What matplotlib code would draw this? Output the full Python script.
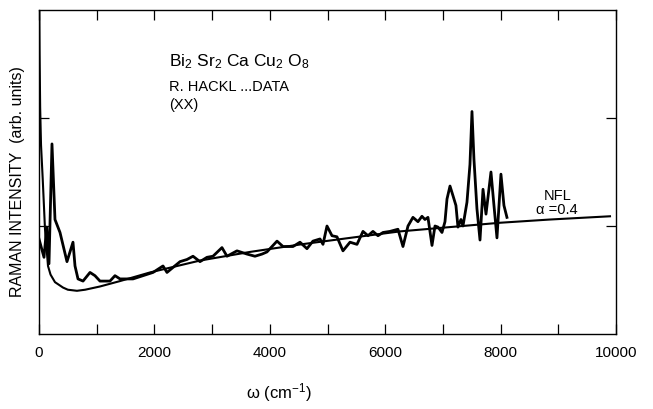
import matplotlib
matplotlib.use("Agg")
import matplotlib.pyplot as plt
from matplotlib.ticker import MultipleLocator

plt.rcParams['font.family'] = ['Liberation Sans', 'DejaVu Sans']
plt.rcParams['mathtext.default'] = 'regular'

# measured spectrum (omega in cm^-1, intensity arb. units)
data_w = [0, 87, 133, 173, 225, 277, 364, 485, 589, 624, 676, 763, 884, 970,
          1057, 1230, 1317, 1404, 1629, 1802, 1976, 2149, 2218, 2444, 2565,
          2669, 2790, 2911, 3015, 3171, 3258, 3431, 3605, 3743, 3865, 3951,
          4125, 4229, 4402, 4523, 4644, 4748, 4870, 4922, 4991, 5078, 5164,
          5268, 5390, 5511, 5615, 5702, 5788, 5875, 5962, 6083, 6221, 6308,
          6395, 6481, 6568, 6637, 6689, 6741, 6811, 6863, 6915, 6984, 7036,
          7071, 7123, 7175, 7226, 7261, 7313, 7348, 7417, 7469, 7504, 7538,
          7590, 7643, 7695, 7747, 7833, 7885, 7937, 8006, 8058, 8110]
data_i = [0.88, 0.71, 0.99, 0.65, 1.76, 1.06, 0.94, 0.67, 0.85, 0.63, 0.51,
          0.49, 0.57, 0.54, 0.49, 0.49, 0.54, 0.51, 0.51, 0.54, 0.57, 0.63,
          0.57, 0.67, 0.69, 0.72, 0.67, 0.71, 0.72, 0.80, 0.72, 0.77, 0.74,
          0.72, 0.74, 0.76, 0.86, 0.81, 0.81, 0.85, 0.79, 0.86, 0.88, 0.83,
          1.00, 0.91, 0.90, 0.77, 0.85, 0.83, 0.95, 0.91, 0.95, 0.91, 0.94,
          0.95, 0.97, 0.81, 1.00, 1.08, 1.04, 1.09, 1.06, 1.08, 0.82, 1.00,
          0.99, 0.94, 1.04, 1.25, 1.37, 1.28, 1.19, 0.99, 1.06, 1.00, 1.22,
          1.57, 2.06, 1.62, 1.16, 0.87, 1.34, 1.11, 1.50, 1.19, 0.89, 1.48,
          1.19, 1.08]

# NFL theory curve, alpha = 0.4
nfl_w = [3, 10, 20, 35, 64, 104, 156, 200, 277, 416, 500, 658, 800, 1057,
         1404, 1924, 2790, 3657, 4541, 5390, 6256, 7123, 7989, 8856, 9896]
nfl_i = [3.2, 2.6, 2.1, 1.75, 1.44, 0.97, 0.63, 0.55, 0.48, 0.43, 0.41, 0.40,
         0.41, 0.44, 0.49, 0.57, 0.68, 0.76, 0.83, 0.89, 0.95, 0.99, 1.03,
         1.06, 1.09]

xtick_labels = ['0', '2000', '4000', '6000', '8000', '10000']

fig = plt.figure(figsize=(6.53, 4.10), dpi=100)
ax = fig.add_axes([39/653, 1-335/410, (616-39)/653, (335-11)/410])

ax.plot(nfl_w, nfl_i, color='black', lw=1.5, solid_joinstyle='round')
ax.plot(data_w, data_i, color='black', lw=2.0, solid_joinstyle='round')

ax.set_xlim(0, 10000)
ax.set_ylim(0, 3)
ax.set_xticks([0, 2000, 4000, 6000, 8000, 10000])
ax.set_xticklabels(xtick_labels)
ax.xaxis.set_minor_locator(MultipleLocator(1000))
ax.set_yticks([1, 2])
ax.set_yticklabels(['', ''])
ax.tick_params(axis='both', which='both', direction='in', length=7,
               width=0.9, top=True, right=True, labelsize=11, pad=8)
for s in ax.spines.values():
    s.set_linewidth(1.0)

fig.text(279/653, 1-393/410, 'ω (cm$^{-1}$)', ha='center', va='center', fontsize=12)
fig.text(18/653, 1-182/410, 'RAMAN INTENSITY  (arb. units)', rotation=90,
         ha='center', va='center', fontsize=11.5)

fig.text(169/653, 1-66/410, 'Bi$_2$ Sr$_2$ Ca Cu$_2$ O$_8$', ha='left',
         va='baseline', fontsize=12.5)
fig.text(169/653, 1-91/410, 'R. HACKL ...DATA', ha='left', va='baseline',
         fontsize=10.5)
fig.text(169/653, 1-109/410, '(XX)', ha='left', va='baseline', fontsize=10.5)

fig.text(558/653, 1-196/410, 'NFL', ha='center', va='center', fontsize=10.5)
fig.text(557/653, 1-210/410, 'α =0.4', ha='center', va='center', fontsize=10.5)

fig.savefig('out.png', dpi=100)
